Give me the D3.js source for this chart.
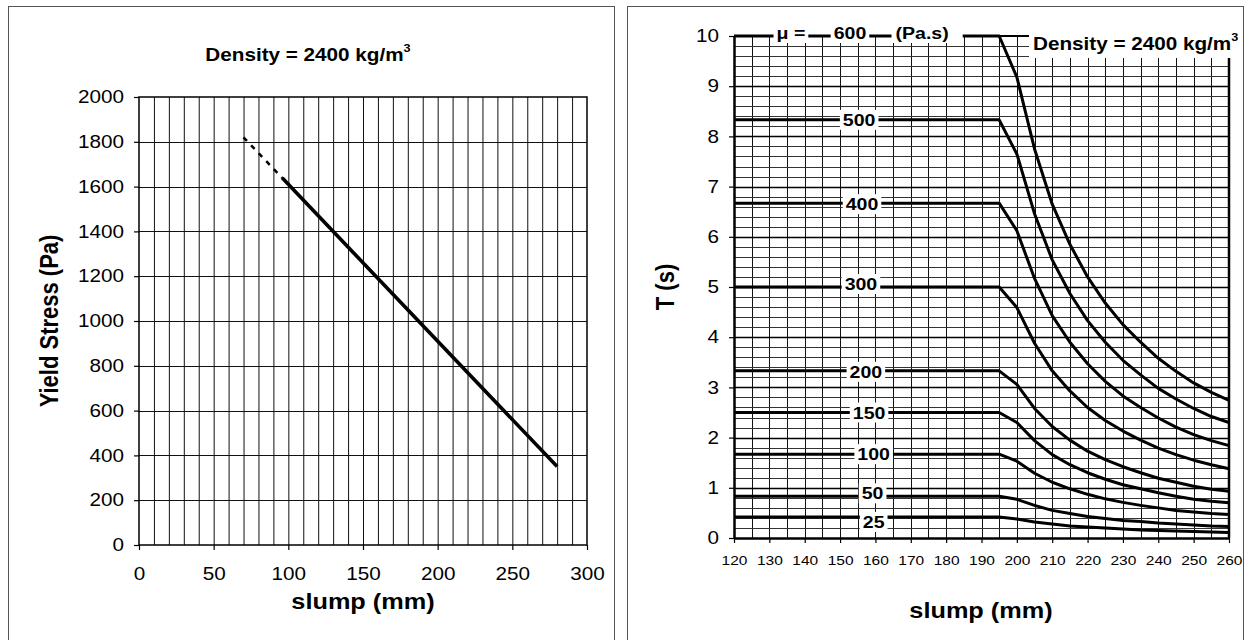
<!DOCTYPE html>
<html>
<head>
<meta charset="utf-8">
<script src="https://cdn.jsdelivr.net/npm/d3@7"></script>
<style>
  body { margin: 0; background: #fff; }
  svg { display: block; }
  text { font-family: "Liberation Sans", Arial, Helvetica, sans-serif; fill: #000; }
</style>
</head>
<body>
<script>
// ---------- left chart: yield stress vs slump ----------
const dashSlump = [70, 96];
const dashStress = [1820, 1638];
const lineSlump = [96, 280];
const lineStress = [1638, 350];
const leftXTicks = [0, 50, 100, 150, 200, 250, 300];
const leftYTicks = [0, 200, 400, 600, 800, 1000, 1200, 1400, 1600, 1800, 2000];

// ---------- right chart: T vs slump for several viscosities ----------
const slumpT = [120, 195, 200, 205, 210, 215, 220, 225, 230, 235, 240, 245, 250, 255, 260];
const muNames = ["600", "500", "400", "300", "200", "150", "100", "50", "25"];
const T600 = [10, 10, 9.18, 7.75, 6.65, 5.85, 5.20, 4.68, 4.25, 3.90, 3.58, 3.32, 3.09, 2.90, 2.74];
const T500 = [8.33, 8.33, 7.65, 6.46, 5.54, 4.87, 4.33, 3.90, 3.54, 3.25, 2.98, 2.77, 2.58, 2.42, 2.30];
const T400 = [6.67, 6.67, 6.12, 5.17, 4.43, 3.90, 3.47, 3.12, 2.83, 2.60, 2.39, 2.21, 2.06, 1.94, 1.84];
const T300 = [5, 5, 4.59, 3.88, 3.33, 2.93, 2.60, 2.34, 2.13, 1.95, 1.79, 1.66, 1.55, 1.46, 1.38];
const T200 = [3.33, 3.33, 3.06, 2.58, 2.22, 1.95, 1.73, 1.56, 1.42, 1.30, 1.19, 1.11, 1.03, 0.97, 0.93];
const T150 = [2.5, 2.5, 2.30, 1.94, 1.66, 1.46, 1.30, 1.17, 1.06, 0.98, 0.90, 0.83, 0.77, 0.73, 0.70];
const T100 = [1.67, 1.67, 1.53, 1.29, 1.11, 0.98, 0.87, 0.78, 0.71, 0.65, 0.60, 0.55, 0.52, 0.49, 0.47];
const T50 = [0.83, 0.83, 0.77, 0.65, 0.55, 0.49, 0.43, 0.39, 0.35, 0.33, 0.30, 0.28, 0.26, 0.24, 0.23];
const T25 = [0.42, 0.42, 0.38, 0.32, 0.28, 0.24, 0.22, 0.20, 0.18, 0.16, 0.15, 0.14, 0.13, 0.12, 0.11];
const rightXTicks = [120, 130, 140, 150, 160, 170, 180, 190, 200, 210, 220, 230, 240, 250, 260];
const rightYTicks = [0, 1, 2, 3, 4, 5, 6, 7, 8, 9, 10];

const W = 1249, H = 640;
const SX = 1.15; // the scanned text is a bit wider than it is tall

const svg = d3.select("body").append("svg")
  .attr("width", W).attr("height", H)
  .attr("viewBox", [0, 0, W, H]);

svg.append("rect").attr("width", W).attr("height", H).attr("fill", "#fff");

// panel frames
svg.append("rect").attr("x", 8.5).attr("y", 6.5).attr("width", 606).attr("height", 700)
  .attr("fill", "none").attr("stroke", "#555");
svg.append("rect").attr("x", 627.5).attr("y", 6.5).attr("width", 616).attr("height", 700)
  .attr("fill", "none").attr("stroke", "#555");

// helper for stretched text
function label(g, x, y, txt, size, weight, anchor, rot) {
  return g.append("text")
    .attr("transform", `translate(${x},${y}) scale(${SX},1)` + (rot ? ` rotate(${rot})` : ""))
    .attr("font-size", size)
    .attr("font-weight", weight)
    .attr("text-anchor", anchor)
    .text(txt);
}

// ===================== LEFT =====================
const xL = d3.scaleLinear([0, 300], [139, 587]);
const yL = d3.scaleLinear([0, 2000], [545, 97]);
const gL = svg.append("g");

// grid
gL.append("g").attr("stroke", "#111").attr("stroke-width", 1)
  .selectAll("line").data(d3.range(10, 300, 10)).join("line")
  .attr("x1", d => xL(d) + 0.5).attr("x2", d => xL(d) + 0.5)
  .attr("y1", yL(0)).attr("y2", yL(2000));
gL.append("g").attr("stroke", "#111").attr("stroke-width", 1)
  .selectAll("line").data(d3.range(200, 2000, 200)).join("line")
  .attr("y1", d => Math.round(yL(d)) + 0.5).attr("y2", d => Math.round(yL(d)) + 0.5)
  .attr("x1", xL(0)).attr("x2", xL(300));
gL.append("rect").attr("x", xL(0)).attr("y", yL(2000))
  .attr("width", xL(300) - xL(0)).attr("height", yL(0) - yL(2000))
  .attr("fill", "none").attr("stroke", "#000").attr("stroke-width", 1.5);

// axes
const axL = gL.append("g").attr("transform", `translate(${xL(0)},0)`)
  .call(d3.axisLeft(yL).tickValues(leftYTicks).tickFormat(d3.format("d"))
    .tickSize(5).tickSizeOuter(0).tickPadding(10));
const axB = gL.append("g").attr("transform", `translate(0,${yL(0)})`)
  .call(d3.axisBottom(xL).tickValues(leftXTicks).tickSize(5).tickSizeOuter(0).tickPadding(17));
[axL, axB].forEach(a => {
  a.select(".domain").remove();
  a.selectAll(".tick line").attr("stroke", "#000").attr("stroke-width", 1.2);
  a.selectAll("text").attr("font-size", 18).attr("font-family", null)
    .attr("transform", `scale(${SX},1)`);
});
axL.selectAll("text").attr("x", -15 / SX);

// line
const lineL = d3.line().x(d => xL(d[0])).y(d => yL(d[1]));
gL.append("path").datum(d3.zip(dashSlump, dashStress))
  .attr("d", lineL).attr("fill", "none").attr("stroke", "#000")
  .attr("stroke-width", 2.5).attr("stroke-dasharray", "5,6");
gL.append("path").datum(d3.zip(lineSlump, lineStress))
  .attr("d", lineL).attr("fill", "none").attr("stroke", "#000")
  .attr("stroke-width", 3.6);

// texts
const tL = label(gL, 308, 61, "Density = 2400 kg/m", 18, "bold", "middle");
tL.append("tspan").attr("font-size", 11).attr("dy", -9).text("3");
label(gL, 363, 609, "slump (mm)", 22, "bold", "middle");
label(gL, 58, 321, "Yield Stress (Pa)", 22, "bold", "middle", -90);

// ===================== RIGHT =====================
const xR = d3.scaleLinear([120, 260], [734, 1229]);
const yR = d3.scaleLinear([0, 10], [538, 36]);
const gR = svg.append("g");

// grid
gR.append("g").attr("stroke", "#111").attr("stroke-width", 1)
  .selectAll("line").data(d3.range(125, 260, 5)).join("line")
  .attr("x1", d => Math.round(xR(d)) + 0.5).attr("x2", d => Math.round(xR(d)) + 0.5)
  .attr("y1", yR(0)).attr("y2", yR(10));
gR.append("g")
  .selectAll("line").data(d3.range(1, 50)).join("line")
  .attr("stroke", d => d % 5 === 0 ? "#000" : "#333")
  .attr("stroke-width", d => d % 5 === 0 ? 1.4 : 1)
  .attr("y1", d => Math.round(yR(d / 5)) + 0.5).attr("y2", d => Math.round(yR(d / 5)) + 0.5)
  .attr("x1", xR(120)).attr("x2", xR(260));

// frame
gR.append("line").attr("x1", xR(120)).attr("x2", xR(260)).attr("y1", yR(10)).attr("y2", yR(10))
  .attr("stroke", "#000").attr("stroke-width", 2);
gR.append("line").attr("x1", xR(260)).attr("x2", xR(260)).attr("y1", yR(10)).attr("y2", yR(0))
  .attr("stroke", "#000").attr("stroke-width", 2.5);

const axRL = gR.append("g").attr("transform", `translate(${xR(120)},0)`)
  .call(d3.axisLeft(yR).tickValues(rightYTicks).tickSize(5).tickSizeOuter(0).tickPadding(8));
const axRB = gR.append("g").attr("transform", `translate(0,${yR(0)})`)
  .call(d3.axisBottom(xR).tickValues(rightXTicks).tickSize(5).tickSizeOuter(0).tickPadding(12));
axRL.select(".domain").attr("stroke-width", 2.5);
axRB.select(".domain").attr("stroke-width", 2.5);
[axRL, axRB].forEach(a => {
  a.selectAll(".tick line").attr("stroke", "#000").attr("stroke-width", 1.2);
  a.selectAll("text").attr("font-family", null).attr("transform", `scale(${SX},1)`);
});
axRL.selectAll("text").attr("font-size", 18).attr("x", -15 / SX);
axRB.selectAll("text").attr("font-size", 13.5);

// curves
const seriesT = [T600, T500, T400, T300, T200, T150, T100, T50, T25];
const lineR = d3.line().x((d, i) => xR(slumpT[i])).y(d => yR(d));
gR.append("g").selectAll("path").data(seriesT).join("path")
  .attr("d", lineR).attr("fill", "none").attr("stroke", "#000")
  .attr("stroke-width", 3).attr("stroke-linejoin", "round");

// curve labels (slump position of label centre, pixel nudge from line)
const labelSlump = [152.8, 155.4, 156.2, 155.9, 157.3, 158.2, 159.5, 159.2, 159.5];
const labelNudge = [-3, 0, 1, -3, 1, 0, 0, -3, 5];
function boxedLabel(x, y, txt, size, padL, padR) {
  const g = gR.append("g");
  const box = g.append("rect").attr("fill", "#fff");
  const t = label(g, x, y + size * 0.36, txt, size, "bold", "middle");
  const w = t.node().getComputedTextLength() * SX;
  box.attr("x", x - w / 2 - padL).attr("y", y - 10).attr("width", w + padL + padR).attr("height", 20);
  return t;
}
seriesT.forEach((s, i) => {
  boxedLabel(xR(labelSlump[i]), yR(s[0]) + labelNudge[i], muNames[i], 17, 3, 3);
});
boxedLabel(xR(136.1), 33, "μ =", 17, 3, 3);
boxedLabel(xR(173.2), 33, "(Pa.s)", 17, 4, 14);

// density label, top right
gR.append("rect").attr("fill", "#fff")
  .attr("x", 1029).attr("y", 24).attr("width", 209).attr("height", 34);
const tR = label(gR, 1033, 50, "Density = 2400 kg/m", 18, "bold", "start");
tR.append("tspan").attr("font-size", 11).attr("dy", -9).text("3");

label(gR, 981, 618, "slump (mm)", 22, "bold", "middle");
label(gR, 674, 287, "T (s)", 22, "bold", "middle", -90);
</script>
</body>
</html>
